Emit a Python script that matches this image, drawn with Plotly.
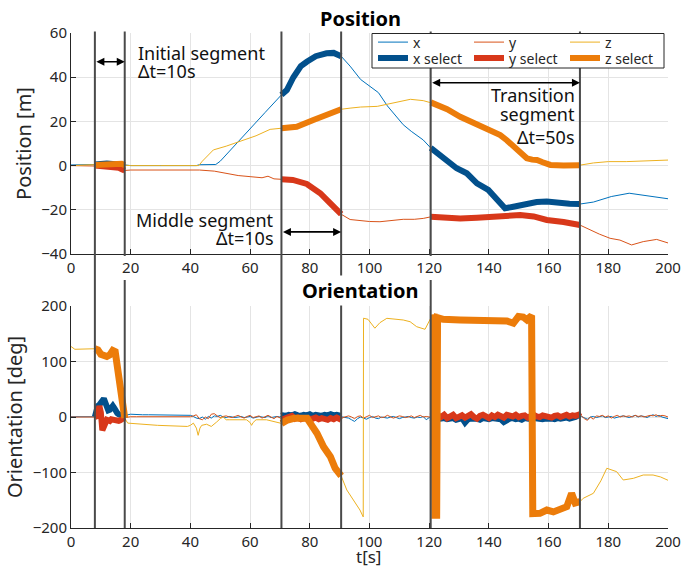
import plotly.graph_objects as go

# ---------------- data ----------------
seg_bounds = [(8, 18), (70.5, 90.5), (120.5, 170.5)]
seg_labels = [["Initial segment", "\u0394t=10s"],
              ["Middle segment", "\u0394t=10s"],
              ["Transition", "segment", "\u0394t=50s"]]
t_ticks = [0, 20, 40, 60, 80, 100, 120, 140, 160, 180, 200]
pos_ticks = [-40, -20, 0, 20, 40, 60]
ori_ticks = [-200, -100, 0, 100, 200]

# Position [m]
pos_x_t = [0, 4, 8, 10, 12, 14, 16, 18, 20, 30, 42, 43, 45, 48.5, 50, 55, 60, 65, 70.5,
           72.3, 74.5, 77, 79, 82, 85.6, 88, 90.5, 93.5, 97, 100, 103, 106, 109, 111.3, 114,
           118, 120.5, 126, 129.2, 132.6, 136, 139.8, 142.6, 145.4, 148.2, 152.7, 156, 159.4,
           163.8, 167, 170.5, 175, 181, 187, 190, 195, 200]
pos_x = [0.3, 0.3, 0.5, 0.8, 0.9, 0.7, 0.8, 0.3, 0, 0, 0, 0.4, 0.5, 0.5, 2, 9.5, 17, 24, 32,
         34.2, 40, 45, 47, 49.5, 50.8, 51, 49.5, 45, 39, 36, 33, 27, 22, 18.5, 15.5,
         11.6, 8, 2.5, -1.2, -3.5, -8, -11, -15.6, -19.3, -18.6, -17.1, -16.5, -16.3,
         -17.1, -17.3, -17.4, -16.5, -14, -12.5, -13, -14, -15]

pos_y_t = [0, 8, 10, 12, 14, 16, 17, 18, 20, 30, 43, 48, 52, 56, 60, 64, 66, 68, 70.5,
           74.3, 79, 83.5, 86.8, 90.5, 93.5, 96.8, 100, 103.5, 107, 111.3, 115, 118, 120.5,
           125, 130.4, 136, 141.5, 146, 150.5, 155, 159.4, 165, 170.5, 173.9, 177, 180.6,
           183.9, 187.8, 191.7, 196.2, 200]
pos_y = [0, 0, -0.2, -0.3, -0.5, -1, -1.6, -2.2, -2, -2, -2, -2.5, -3.5, -4.5, -5, -5.5, -4.8,
         -6, -6.2, -6.5, -8.3, -12.5, -17, -22, -24.4, -25, -25.3, -25.4, -25, -24.3, -24.3,
         -23.9, -23.2, -23.8, -23.9, -23.6, -23.1, -22.8, -22.4, -23, -24.6, -25.5, -26.9,
         -29.1, -31, -32.9, -33.7, -35.9, -34.4, -33.4, -35]

pos_z_t = [0, 8, 10, 12, 14, 16, 17, 18, 20, 30, 42.8, 44, 46, 47.7, 52, 56.6, 62, 66.7, 70.5,
           75.6, 81.2, 86.8, 90.5, 93.5, 97, 102.6, 108, 113.7, 118, 120.5, 123, 126, 130.4,
           133, 136, 140, 143.8, 146, 148.3, 150.5, 152.7, 154.5, 156.1, 158, 160.6, 165,
           170.5, 175, 180, 186, 193, 200]
pos_z = [0, 0.3, 0.5, 0.7, 0.8, 1, 0.8, 0.2, 0, 0, 0, 2, 5, 7.1, 8.8, 10.8, 13.5, 16.4, 16.9,
         17.6, 20.6, 23.7, 25.5, 26, 26.5, 26.8, 28.2, 30, 29.4, 28.6, 27.5, 25.5, 22.1,
         20.5, 18.4, 16, 13.8, 11.5, 8.6, 5.5, 3.3, 2.7, 2.5, 1.5, 0.3, 0.1,
         0.2, 1.2, 1.8, 1.8, 2.2, 2.5]

# Orientation [deg]
ori_t = [0, 2, 4, 6, 8,
         8.5, 9, 9.5, 10, 10.5, 11, 11.5, 12, 12.5, 13, 13.5, 14, 14.5, 15, 15.5, 16, 16.5, 17, 17.5, 18,
         20, 22, 24, 26, 28, 30, 32, 34, 36, 38, 40,
         41, 42, 43, 44, 45, 46, 47, 48, 49, 50, 51, 52, 53, 54, 55, 56, 57, 58, 59, 60,
         61, 62, 63, 64, 65, 66, 67, 68, 69, 70,
         70.5,
         71, 72, 73, 74, 75, 76, 77, 78, 79, 80, 81, 82, 83, 84, 85, 86, 87, 88, 89, 90,
         90.5,
         91, 92, 93, 94, 95, 96, 97, 98, 99, 100, 101, 102, 103, 104, 105, 106, 107, 108, 109, 110,
         111, 112, 113, 114, 115, 116, 117, 118, 119, 120,
         120.5,
         121, 122, 123, 124, 125, 126, 127, 128, 129, 130, 131, 132, 133, 134, 135, 136, 137, 138, 139, 140,
         141, 142, 143, 144, 145, 146, 147, 148, 149, 150, 151, 152, 153, 154, 155, 156, 157, 158, 159, 160,
         161, 162, 163, 164, 165, 166, 167, 168, 169, 170,
         170.5,
         171, 172, 173, 174, 175, 176, 177, 178, 179, 180, 181, 182, 183, 184, 185, 186, 187, 188, 189, 190,
         191, 192, 193, 194, 195, 196, 197, 198, 199, 200]
ori_x = [0.5, 0.5, 0.3, 0.5, 0.5,
         18, 20, 22, 26, 30, 33, 26, 15, 12, 13, 18, 20, 16, 9, 7, 5, 3, 2, 2, 3,
         5, 4, 4, 4, 4, 4, 4, 3.5, 3.5, 3.5, 3,
         1, -2, -3, 0, -4, 1, -2, 2, 1, 3, 0, -1, 1, 0, -1, 0, 1, -1, 0, 1,
         -2, 0, 1, 0, -1, 2, -1, 0, 1, 0,
         2,
         3, 2, 4, 3, 5, 3, 2, 4, 3, 5, 2, 4, 3, 2, 4, 3, 5, 3, 4, 3,
         2,
         0, -1, -2, -5, -8, -3, 0, -2, -4, -1, 1, -2, -3, 0, -1, -2, 0, 1, -1, -3,
         -1, 0, 1, -1, -2, 0, -1, 1, -5, -1,
         -2,
         -3, -2, -4, -3, -2, -4, -3, -2, -5, -3, -2, -10, -4, -3, -2, -3, -5, -2, -3, -4,
         -2, -3, -2, -4, -9, -5, -3, -2, -4, -3, -5, -2, -3, -4, -2, -3, -2, -4, -3, -2,
         -3, -4, -2, -3, -2, -1, -3, -2, 0, 3,
         4,
         1, -2, -4, 0, 1, -1, 0, 2, -1, 0, 1, -2, 0, 1, 2, 0, -1, 1, 3, 0,
         2, 1, -1, 2, 4, 1, 3, 0, -2, -3]
ori_y = [0, 0.3, 0, 0.3, 0,
         0, 2, 20, 8, -24, -15, -6, -5, -6, -7, -4, -5, -5, -7, -8, -7, -6, -5, -3, -1,
         0.5, 0.5, 0.5, 0.5, 0.5, 0.5, 0.5, 0.5, 0.5, 0.5, 0.5,
         2, 4, -3, -5, 0, -3, 5, 6, 2, -1, 1, 2, 0, -1, 1, 3, 0, -2, 1, 3,
         -1, 0, 2, -2, 1, 3, 0, -3, 1, -1,
         -3,
         -4, -2, -1, 2, -3, -1, -4, -2, -3, -4, -3, -1, -4, -2, -3, -5, -2, -4, -1, -3,
         -5,
         -1, 0, 2, 0, -3, 1, 2, -2, 0, 3, -1, 1, 2, -1, 0, 3, 1, -2, 0, 2,
         1, -1, 0, 2, -1, 1, 3, 0, 1, 0,
         1,
         2, -1, 3, 0, 4, -2, 2, 4, -2, 1, 3, -1, 3, 5, 0, -3, 2, 4, 1, -2,
         3, 0, 4, 2, -1, 4, 3, 1, 4, 0, 2, 3, -1, 2, 4, 1, 0, 3, 2, 1,
         -1, 2, 3, 0, 2, 4, 1, 3, 2, 4,
         1,
         2, -3, -6, 0, -4, 2, 1, 3, 0, 2, -2, 1, 3, 0, 2, 1, 2, 0, 3, 1,
         2, 0, 1, 3, 2, 4, 1, 3, 2, 0]

ori_z_t = [0, 1.3, 8, 9, 10, 11, 12, 13, 14, 14.8, 15.5, 16.3, 17, 17.6, 18, 18.5, 19, 29, 39,
           40, 41, 42, 42.6, 43.2, 43.8, 45.4, 47, 48.8, 50, 51, 52, 53.2, 58.8, 60, 60.5, 61,
           62, 65.5, 68, 70.5, 72.5, 74.7, 79.1, 80.2, 82.4, 84.6, 86.9, 88.5, 90.5, 92.4,
           94.6, 96.8, 97.9, 98, 99.5, 101.8, 103.5, 105.8, 111.3, 113.6, 115.8, 118.6, 120.5,
           121.6, 121.9, 122.5, 122.8, 124.7, 130.4, 136, 141.5, 146, 148.2, 149.9, 151.5,
           152.7, 154.3, 154.7, 157.1, 159.4, 161.6, 163.8, 166.1, 167.7, 168.9, 170.5, 171.6,
           175, 177.5, 179.5, 182.8, 185, 188.4, 191.7, 195, 197.5, 200]
ori_z = [127, 122, 123, 121, 113, 110, 109, 112, 120, 118, 90, 50, 15, 1, -2, -8, -11, -15, -17,
         -15, -11, -20, -33, -20, -15, -13, -17, -9, -3, 0, -5, -5, -5, -10, -15, -10,
         -5, -5, -8, -11.5, -5.4, -2.4, -2.4, -11.4, -29.4, -53.5, -71.5, -92.4, -106, -131.5,
         -149.5, -167.6, -180, 178, 176, 160, 170, 177.8, 174.8, 171.7, 162.7, 158, 178,
         179, -177, -177, 179, 176, 175, 174, 173, 173, 169, 181, 180,
         175, 183, -174, -173.6, -167.6, -171, -167.6, -161.6, -137.5, -155, -152.6, -146.5,
         -137.5, -115, -92.4, -98.5, -113.5, -110.5, -104.5, -104.5, -108, -114]

for a_, b_ in [(pos_x_t, pos_x), (pos_y_t, pos_y), (pos_z_t, pos_z),
               (ori_t, ori_x), (ori_t, ori_y), (ori_z_t, ori_z)]:
    if len(a_) != len(b_):
        raise ValueError(f"length mismatch {len(a_)} vs {len(b_)}")


def select(ts, vs):
    out_t, out_v = [], []
    for a, b in seg_bounds:
        for t, v in zip(ts, vs):
            if a <= t <= b:
                out_t.append(t)
                out_v.append(v)
        out_t.append(None)
        out_v.append(None)
    return out_t, out_v


# ---------------- style ----------------
C_X, C_Y, C_Z = "#0072BD", "#D95319", "#EDB120"
C_XS, C_YS, C_ZS = "#02508C", "#D8381A", "#EC7C0A"
FONT = "Noto Sans"
TXT = "#262626"

W, H = 692, 569
L, R, T, B = 71, 24, 33, 41
PW, PH = W - L - R, H - T - B


def px2x(px):
    return (px - L) / PW


def px2y(py):
    return (H - B - py) / PH


top_dom = [px2y(254), 1]
bot_dom = [0, px2y(306)]

fig = go.Figure()

thin_w, thick_w = 1, 6
series = [("x", pos_x_t, pos_x, ori_t, ori_x, C_X, C_XS),
          ("y", pos_y_t, pos_y, ori_t, ori_y, C_Y, C_YS),
          ("z", pos_z_t, pos_z, ori_z_t, ori_z, C_Z, C_ZS)]

for name, pt, pv, ot, ov, c, cs in series:
    fig.add_trace(go.Scatter(x=pt, y=pv, mode="lines", name=name,
                             line=dict(color=c, width=thin_w), legend="legend",
                             xaxis="x", yaxis="y"))
for name, pt, pv, ot, ov, c, cs in series:
    fig.add_trace(go.Scatter(x=ot, y=ov, mode="lines", name=name, showlegend=False,
                             line=dict(color=c, width=thin_w), xaxis="x2", yaxis="y2"))
for name, pt, pv, ot, ov, c, cs in series:
    st, sv = select(pt, pv)
    fig.add_trace(go.Scatter(x=st, y=sv, mode="lines", name=name + " select",
                             line=dict(color=cs, width=thick_w), legend="legend2",
                             xaxis="x", yaxis="y"))
for name, pt, pv, ot, ov, c, cs in series:
    st, sv = select(ot, ov)
    fig.add_trace(go.Scatter(x=st, y=sv, mode="lines", name=name + " select", showlegend=False,
                             line=dict(color=cs, width=7 if name == "z" else thick_w),
                             xaxis="x2", yaxis="y2"))

axis_common = dict(showline=True, linecolor=TXT, linewidth=1, ticks="inside", ticklen=5,
                   tickcolor=TXT, showgrid=True, gridcolor="#e4e4e4", gridwidth=1,
                   zeroline=False, tickfont=dict(family=FONT, size=15, color=TXT), mirror=False,
                   automargin=False)

fig.update_layout(
    width=W, height=H, margin=dict(l=L, r=R, t=T, b=B),
    paper_bgcolor="white", plot_bgcolor="white",
    font=dict(family=FONT, color=TXT),
    xaxis=dict(domain=[0, 1], range=[0, 200], tickvals=t_ticks, anchor="y", **axis_common),
    yaxis=dict(domain=top_dom, range=[-40, 60], tickvals=pos_ticks, anchor="x",
               title=dict(text="Position [m]", font=dict(family=FONT, size=20, color=TXT), standoff=4),
               **axis_common),
    xaxis2=dict(domain=[0, 1], range=[0, 200], tickvals=t_ticks, anchor="y2", **axis_common),
    yaxis2=dict(domain=bot_dom, range=[-200, 200], tickvals=ori_ticks, anchor="x2",
                title=dict(text="Orientation [deg]", font=dict(family=FONT, size=20, color=TXT), standoff=4),
                **axis_common),
    legend=dict(orientation="h", x=px2x(373), xanchor="left", y=px2y(26.5), yanchor="top",
                bgcolor="rgba(0,0,0,0)", borderwidth=0, entrywidth=51, entrywidthmode="pixels",
                font=dict(family=FONT, size=14, color=TXT), itemwidth=30),
    legend2=dict(orientation="h", x=px2x(373), xanchor="left", y=px2y(42.5), yanchor="top",
                 bgcolor="rgba(0,0,0,0)", borderwidth=0, entrywidth=51, entrywidthmode="pixels",
                 font=dict(family=FONT, size=14, color=TXT), itemwidth=30),
    showlegend=True,
)

# vertical segment boundary lines
shapes = []
line_style = dict(color="#4a4a4a", width=2)
for a, b in seg_bounds:
    for tb in (a, b):
        near_label = min(abs(tb - tk) for tk in t_ticks) < 3
        if near_label:
            spans = [(0, px2y(280)), (px2y(256), px2y(31.5))]
        else:
            spans = [(0, px2y(31.5))]
        for y0, y1 in spans:
            shapes.append(dict(type="line", xref="x", yref="paper", x0=tb, x1=tb,
                               y0=y0, y1=y1, line=line_style, layer="above"))
# legend box
shapes.append(dict(type="rect", xref="paper", yref="paper", x0=px2x(372), x1=px2x(664),
                   y0=px2y(68), y1=px2y(33.5), fillcolor="white",
                   line=dict(color=TXT, width=1), layer="above"))
fig.update_layout(shapes=shapes)

ann = []
# titles
ann.append(dict(text="<b>Position</b>", xref="paper", yref="paper", x=px2x(360), y=px2y(18),
                showarrow=False, font=dict(family=FONT, size=20, color="black"),
                xanchor="center", yanchor="middle"))
ann.append(dict(text="<b>Orientation</b>", xref="paper", yref="paper", x=px2x(360), y=px2y(290),
                showarrow=False, font=dict(family=FONT, size=20, color="black"),
                xanchor="center", yanchor="middle", bgcolor="white"))
# x axis title
ann.append(dict(text="t[s]", xref="paper", yref="paper", x=px2x(368), y=px2y(556),
                showarrow=False, font=dict(family=FONT, size=17, color=TXT),
                xanchor="center", yanchor="middle"))
# double arrows
arrow_y = [47, -30, 37.5]
for (a, b), ay in zip(seg_bounds, arrow_y):
    ann.append(dict(x=b, y=ay, ax=a, ay=ay, xref="x", yref="y", axref="x", ayref="y",
                    text="", showarrow=True, arrowhead=2, arrowside="end+start",
                    arrowsize=1, arrowwidth=1.6, arrowcolor="black", standoff=0, startstandoff=0))
# segment labels
lab_pos = [(136, "left", [53, 71]), (276, "right", [220, 238]), (577, "right", [95, 114, 137])]
for lines, (xp, anchor, ys) in zip(seg_labels, lab_pos):
    for txt, yp in zip(lines, ys):
        ann.append(dict(text=txt, xref="paper", yref="paper", x=px2x(xp), y=px2y(yp),
                        showarrow=False, xanchor=anchor, yanchor="middle",
                        font=dict(family=FONT, size=18, color="#111111")))
fig.update_layout(annotations=ann)

fig.write_html("out.html")
